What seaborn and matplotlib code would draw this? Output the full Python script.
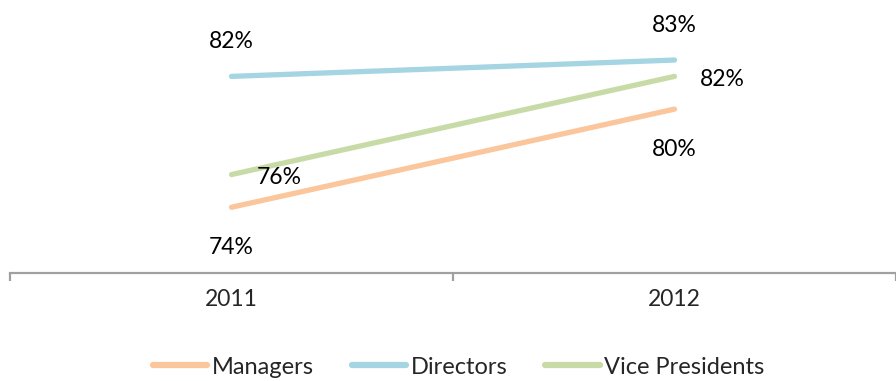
import matplotlib
matplotlib.use("Agg")
import pandas as pd
import seaborn as sns
import matplotlib.pyplot as plt
from matplotlib.ticker import FixedLocator

# Data
years = ["2011", "2012"]
managers = [74, 80]
directors = [82, 83]
vice_presidents = [76, 82]

series_names = ["Managers", "Directors", "Vice Presidents"]
colors = ["#FBC69C", "#A5D4E2", "#C8DBA6"]

data = pd.DataFrame({
    "year": years * 3,
    "value": managers + directors + vice_presidents,
    "group": [n for n in series_names for _ in years],
})

sns.set_style("white")
plt.rcParams["font.family"] = ["Lato", "DejaVu Sans"]

fig = plt.figure(figsize=(8.96, 3.81), dpi=100)
ax = fig.add_axes([10 / 896, 108.3 / 381, 886 / 896, 272.7 / 381])

sns.lineplot(
    data=data, x="year", y="value", hue="group",
    palette=dict(zip(series_names, colors)),
    linewidth=3.8, ax=ax, legend=True,
)
for line in ax.get_lines():
    line.set_solid_capstyle("round")

ax.set_xlim(-0.5, 1.5)
ax.set_ylim(70, 86.67)

# Data labels
label_offsets = {
    "Managers": (0, -40, "center"),
    "Directors": (0, 35, "center"),
    "Vice Presidents": (25, -3, "left"),
}
for name, vals in zip(series_names, [managers, directors, vice_presidents]):
    dx, dy, ha = label_offsets[name]
    for i, v in enumerate(vals):
        ax.annotate(f"{v}%", (i, v), xytext=(dx * 0.72, dy * 0.72),
                    textcoords="offset points", ha=ha, va="center",
                    fontsize=16.5, color="black")

# Axes styling
for side in ["top", "right", "left"]:
    ax.spines[side].set_visible(False)
ax.spines["bottom"].set_color("#A0A0A0")
ax.spines["bottom"].set_linewidth(1.6)
ax.set_yticks([])
ax.set_xlabel("")
ax.set_ylabel("")
ax.tick_params(axis="x", which="major", bottom=True, length=0, labelsize=16.5, pad=12)
ax.xaxis.set_minor_locator(FixedLocator([-0.5, 0.5, 1.5]))
ax.tick_params(axis="x", which="minor", bottom=True, length=6, width=1.6,
               color="#A0A0A0", direction="out")

handles, labels = ax.get_legend_handles_labels()
ax.get_legend().remove()
for h in handles:
    h.set_linewidth(4.5)
    h.set_solid_capstyle("round")
fig.legend(handles, labels, loc="center", bbox_to_anchor=(0.512, 14 / 381),
           ncol=3, frameon=False, fontsize=17, handlelength=2.3,
           handletextpad=0.2, columnspacing=1.6)

fig.savefig("out.png", dpi=100)
